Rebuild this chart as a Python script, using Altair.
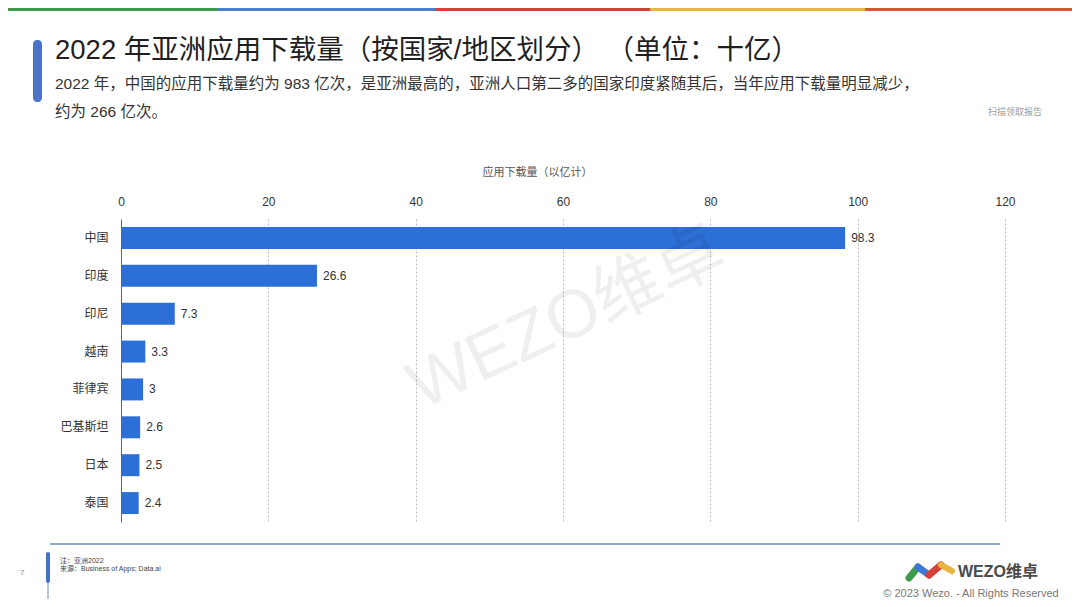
import altair as alt
import pandas as pd

# ---- data ----
countries = ["中国", "印度", "印尼", "越南", "菲律宾", "巴基斯坦", "日本", "泰国"]
downloads = [98.3, 26.6, 7.3, 3.3, 3, 2.6, 2.5, 2.4]
tick_values = [0, 20, 40, 60, 80, 100, 120]

title_text = "2022 年亚洲应用下载量（按国家/地区划分） （单位：十亿）"
sub_line1 = "2022 年，中国的应用下载量约为 983 亿次，是亚洲最高的，亚洲人口第二多的国家印度紧随其后，当年应用下载量明显减少，"
sub_line2 = "约为 266 亿次。"
axis_title = "应用下载量（以亿计）"
note_lines = ["注：亚洲2022", "来源：Business of Apps; Data.ai"]

df = pd.DataFrame({"country": countries, "downloads": downloads})

FONT = "Liberation Sans, Noto Sans CJK SC, sans-serif"
OX, OY = 121, 219  # page position of plot origin


def px(x):
    return x - OX


def py(y):
    return y - OY


one = pd.DataFrame({"k": [0]})


def text(s, x, y, size, color, align="left", weight="normal", angle=None, opacity=1.0):
    kw = dict(text=s, fontSize=size, color=color, align=align, baseline="middle",
              font=FONT, fontWeight=weight, opacity=opacity)
    if angle is not None:
        kw["angle"] = angle
    return alt.Chart(one).mark_text(**kw).encode(x=alt.value(px(x)), y=alt.value(py(y)))


def rule(x1, y1, x2, y2, color, width, cap="butt"):
    return alt.Chart(one).mark_rule(color=color, strokeWidth=width, strokeCap=cap).encode(
        x=alt.value(px(x1)), y=alt.value(py(y1)), x2=alt.value(px(x2)), y2=alt.value(py(y2)))


def rect(x1, y1, x2, y2, color, radius=0):
    return alt.Chart(one).mark_rect(color=color, cornerRadius=radius).encode(
        x=alt.value(px(x1)), y=alt.value(py(y1)), x2=alt.value(px(x2)), y2=alt.value(py(y2)))


base = alt.Chart(df)
bars = base.mark_bar(color="#2c6fd6").encode(
    x=alt.X("downloads:Q",
            scale=alt.Scale(domain=[0, 120], nice=False),
            axis=alt.Axis(orient="top", values=tick_values, title=axis_title,
                          titleX=416, labelPadding=11, titlePadding=18, labelFlush=False,
                          grid=True, gridDash=[2, 2], gridColor="#bdbdbd",
                          domain=False, ticks=False)),
    y=alt.Y("country:N", sort=countries,
            scale=alt.Scale(paddingInner=0.42, paddingOuter=0.21),
            axis=alt.Axis(title=None, ticks=False, labelPadding=13, grid=False,
                          domain=True, domainColor="#666666", domainWidth=1)),
)
labels = base.mark_text(align="left", baseline="middle", dx=6, fontSize=12,
                        color="#333333", font=FONT).encode(
    x="downloads:Q",
    y=alt.Y("country:N", sort=countries),
    text=alt.Text("downloads:Q"),
)

deco = []
# top colour strip (drawn at the chart's top edge)
strip = [("#3f9b4c", 0, 218), ("#4b7fcc", 218, 435), ("#d6403a", 435, 650),
         ("#e8b540", 650, 865), ("#d9572f", 865, 1080)]
for c, a, b in strip:
    deco.append(rect(a, 8, b, 11, c))
# title accent bar
deco.append(rect(33, 40, 42, 102, "#4a73c9", radius=4))
deco.append(text(title_text, 55, 51, 27.5, "#1f1f1f"))
deco.append(text(sub_line1, 55, 84, 15.5, "#333333"))
deco.append(text(sub_line2, 55, 112, 15.5, "#333333"))
deco.append(text("扫描领取报告", 1015, 112, 9, "#9a9a9a", align="center"))
# bottom separator
deco.append(rule(50, 544, 1000, 544, "#6b8cba", 1.5))
# footer accent
deco.append(rule(48, 583, 48, 599, "#6b8cba", 1))
deco.append(rect(46, 552, 50, 583, "#4472c4", radius=2))
deco.append(text(note_lines[0], 60, 561, 7, "#444444"))
deco.append(text(note_lines[1], 60, 569, 7, "#444444"))
deco.append(text("7", 20, 573, 8, "#888888"))
# logo
deco.append(rule(909, 578, 918, 567, "#3f9b4c", 7, "round"))
deco.append(rule(918, 567, 929, 575, "#3b78d8", 7, "round"))
deco.append(rule(929, 575, 941, 565, "#d6403a", 7, "round"))
deco.append(rule(941, 565, 952, 571, "#e8b540", 6, "round"))
deco.append(text("WEZO维卓", 958, 572, 16, "#4a4a4a", weight="bold"))
deco.append(text("© 2023 Wezo. - All Rights Reserved", 971, 594, 11, "#777777", align="center"))
# watermark
deco.append(text("WEZO维卓", 567, 320, 68, "#000000", align="center", angle=335, opacity=0.06))

chart = alt.layer(bars, labels, *deco).properties(
    width=884, height=303,
    autosize=alt.AutoSizeParams(type="none"),
    padding={"left": 113, "top": 211, "right": 67, "bottom": 77},
).configure_view(stroke=None).configure_axis(
    labelFont=FONT, titleFont=FONT, labelFontSize=12, labelColor="#333333",
    titleFontSize=11, titleFontWeight="normal", titleColor="#555555",
)

chart.save("out.html", embed_options={"renderer": "svg", "actions": False})
